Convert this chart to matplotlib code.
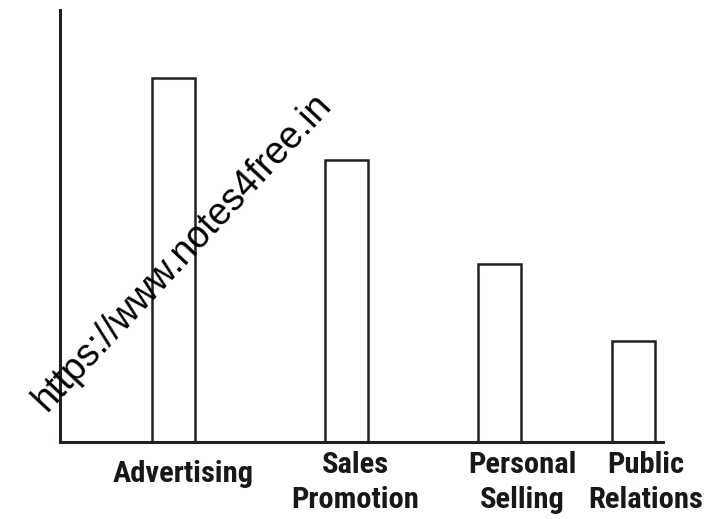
import matplotlib
matplotlib.use('Agg')
import matplotlib.pyplot as plt
from matplotlib import font_manager

# data (relative heights)
categories = [['Advertising'], ['Sales', 'Promotion'], ['Personal', 'Selling'], ['Public', 'Relations']]
values = [364, 282, 178, 101]

# layout (pixel units of the 710x519 canvas)
bar_pos = [113.5, 286.5, 439.5, 573.5]
label_pos = [123, 295, 462, 586]
first_base = [482, 473, 473, 473]
line_step = 35
ink = '#231f20'

# pick a condensed bold face if one is installed
names = {f.name for f in font_manager.fontManager.ttflist}
label_font = 'DejaVu Sans'
stretch = 'normal'
for cand in ['Roboto Condensed', 'Liberation Sans Narrow', 'Open Sans Condensed', 'Noto Sans Condensed']:
    if cand in names:
        label_font = cand
        break
else:
    if any(f.name == 'DejaVu Sans' and 'Condensed' in f.fname for f in font_manager.fontManager.ttflist):
        stretch = 'condensed'

fig = plt.figure(figsize=(7.1, 5.19), dpi=100)
fig.patch.set_facecolor('white')
ax = fig.add_axes([60 / 710, 77 / 519, 603 / 710, 432 / 519])
ax.set_xlim(0, 603)
ax.set_ylim(0, 432)

ax.bar(bar_pos, values, width=43, facecolor='white', edgecolor=ink, linewidth=1.8)

for s in ['top', 'right']:
    ax.spines[s].set_visible(False)
for s in ['left', 'bottom']:
    ax.spines[s].set_linewidth(2.2)
    ax.spines[s].set_color(ink)
ax.set_xticks([])
ax.set_yticks([])

# size the labels so "Advertising" is about 140 px wide
probe = fig.text(0, 0, 'Advertising', fontsize=20, fontweight='bold',
                 family=label_font, fontstretch=stretch)
fig.canvas.draw()
w = probe.get_window_extent().width
probe.remove()
fs = min(23, 20 * 140 / w)

# category labels under the axis
for x, base, lines in zip(label_pos, first_base, categories):
    for i, line in enumerate(lines):
        ax.annotate(line, xy=(x, 519 - base - i * line_step), xycoords=('data', 'figure pixels'),
                    ha='center', va='baseline', fontsize=fs, fontweight='bold',
                    family=label_font, fontstretch=stretch,
                    color='#1a1718', annotation_clip=False)

# watermark
fig.text(47 / 710, (519 - 413) / 519, 'https://www.notes4free.in',
         rotation=47, rotation_mode='anchor', ha='left', va='baseline',
         fontsize=27, family=['Liberation Sans', 'DejaVu Sans'], color='black')

fig.savefig('out.png', dpi=100)
